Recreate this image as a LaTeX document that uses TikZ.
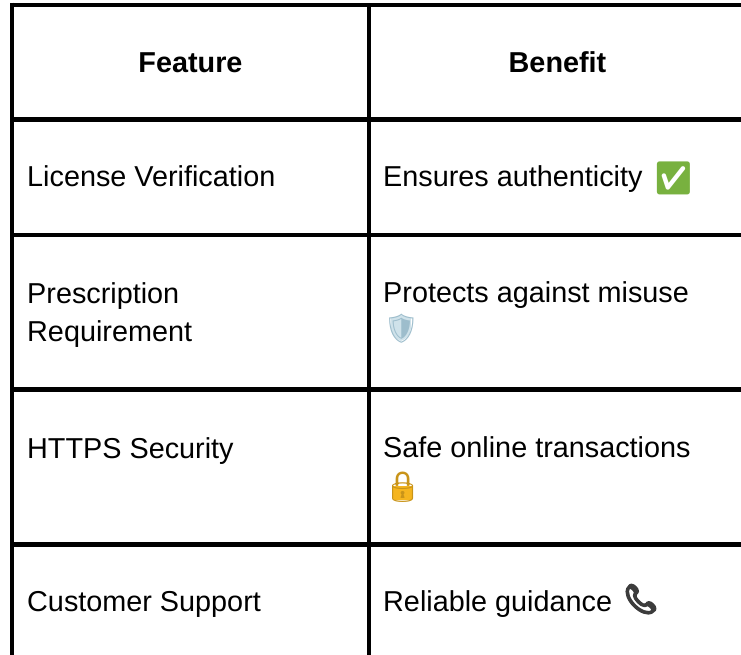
\documentclass[tikz,border=0pt]{standalone}
\usepackage{fontspec}
\setmainfont{Liberation Sans}
\newfontfamily\emo{Noto Emoji}
\newfontfamily\emobold[FakeBold=9]{Noto Emoji}
\definecolor{checkgreen}{HTML}{78B13F}
\definecolor{shieldedge}{HTML}{9DBDCC}
\definecolor{shieldfill}{HTML}{CFE2EA}
\definecolor{lockedge}{HTML}{C99419}
\definecolor{lockfill}{HTML}{F5B51F}
\definecolor{phonegray}{HTML}{3C3C3C}
\begin{document}
\begin{tikzpicture}[x=1pt,y=-1pt,
  rule/.style={line width=4.5pt,black},
  cell/.style={anchor=base west,inner sep=0pt,font=\fontsize{28.8}{38}\selectfont},
  head/.style={anchor=base,inner sep=0pt,font=\fontsize{28.8}{38}\selectfont\bfseries},
  emojicell/.style={anchor=base west,inner sep=0pt}]
\useasboundingbox (0,0) rectangle (741,655);
\begin{scope}
\clip (0,0) rectangle (741,655);
% outer and inner rules
\draw[rule] (12,5) -- (760,5);
\draw[rule] (12,2.75) -- (12,680);
\draw[rule] (369,5) -- (369,680);
\draw[rule] (746,5) -- (746,680);
\draw[rule] (12,119.5) -- (760,119.5);
\draw[rule] (12,235) -- (760,235);
\draw[rule] (12,389.5) -- (760,389.5);
\draw[rule] (12,544.5) -- (760,544.5);
\end{scope}
% header
\node[head] (hf) at (190.5,73) {Feature};
\node[head] (hb) at (557.5,73) {Benefit};
% row 1
\node[cell] (f1) at (27,186) {License Verification};
\node[cell] (b1) at (383,186) {Ensures authenticity \hspace{2.4pt}\raisebox{-3.7pt}{\fontsize{32.5}{38}\emo\color{checkgreen}✅}};
% row 2
\node[cell] (f2a) at (27,303) {Prescription};
\node[cell] (f2b) at (27,341) {Requirement};
\node[cell] (b2a) at (383,302) {Protects against misuse};
\begin{scope}[shift={(383,338)}]
\fill[shieldfill] (8.2,-20.2) .. controls (12,-20.6) and (15.5,-21.6) .. (17.9,-22.9)
  .. controls (20.3,-21.6) and (24,-20.6) .. (27.8,-20.2) -- (27.8,-9.3)
  .. controls (27.6,-3) and (23.5,0.6) .. (17.9,3.0)
  .. controls (12.3,0.6) and (8.4,-3) .. (8.2,-9.3) -- cycle;
\node[emojicell,font=\fontsize{28.8}{38}\emo] (b2b) at (0,0) {\color{shieldedge}🛡};
\end{scope}
% row 3
\node[cell] (f3) at (27,458) {HTTPS Security};
\node[cell] (b3a) at (383,457) {Safe online transactions};
\begin{scope}[shift={(383.5,497)}]
\fill[lockfill,rounded corners=1.5pt] (9.6,-10.9) rectangle (29.2,3.1);
\node[emojicell,font=\fontsize{30}{38}\emo] (b3b) at (0,0) {\color{lockedge}🔒};
\end{scope}
% row 4
\node[cell] (f4) at (27,611) {Customer Support};
\node[cell] (b4) at (383,611) {Reliable guidance \hspace{3pt}\raisebox{2.3pt}{\fontsize{28}{38}\emobold\color{phonegray}📞}};
\end{tikzpicture}
\end{document}
